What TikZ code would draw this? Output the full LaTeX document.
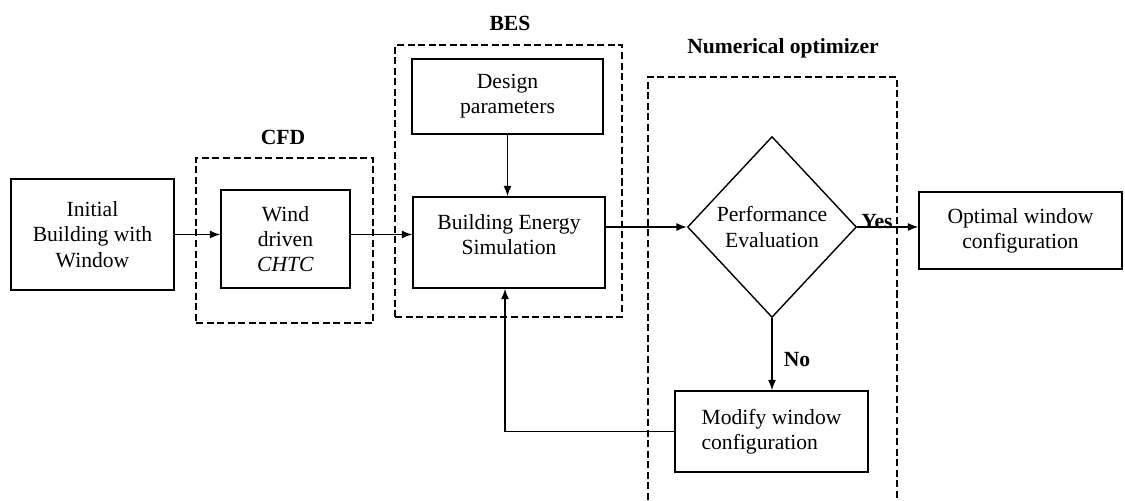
\documentclass[tikz,border=0pt]{standalone}
\usepackage{fontspec}
\setmainfont{Liberation Serif}
\usetikzlibrary{arrows.meta, shapes.geometric, positioning}

\begin{document}
\begin{tikzpicture}[x=0.02cm, y=0.02cm,
        font=\fontsize{12.3}{14.4}\selectfont,
        line width=0.8pt,
           arr/.style = {-{Latex[length=6pt,width=4.6pt]}},
         block/.style = {rectangle, draw, align=center, inner sep=2pt},
      decision/.style = {diamond, draw, align=center, inner sep=0pt,
                         minimum width=3.38cm, minimum height=3.62cm},
         frame/.style = {draw, line width=0.7pt,
                         dash pattern=on 4pt off 2pt},
         title/.style = {font=\fontsize{12.3}{14.4}\selectfont\bfseries}
                        ]
\useasboundingbox (0,0) rectangle (1125,500);
% Draw the dashed group frames and their titles
\node[frame, minimum width=3.54cm, minimum height=3.3cm]
        (cfdbox) at (284.5,259.5) {};
\node[frame, minimum width=4.54cm, minimum height=5.44cm]
        (besbox) at (508.5,319) {};
\draw[frame] (648,0) -- (648,423) -- (897,423) -- (897,0);
\node[title] (cfd) at (283,363) {CFD};
\node[title] (bestitle) at (510,477) {BES};
\node[title] (opttitle) at (783,452) {Numerical optimizer};
% Draw the process blocks
\node[block, minimum width=3.26cm, minimum height=2.22cm]
        (init) at (92.5,265.5) {Initial\\Building with\\Window};
\node[block, minimum width=2.58cm, minimum height=1.96cm]
        (wind) at (285.5,261) {Wind\\driven\\\textit{CHTC}};
\node[block, minimum width=3.82cm, minimum height=1.5cm]
        (design) at (507.5,403.5) {Design\\parameters};
\node[block, minimum width=3.84cm, minimum height=1.82cm]
        (bes) at (509,257.5) {Building Energy\\Simulation\\[-5.6pt]};
\node[decision] (eval) at (772,273) {Performance\\Evaluation};
\node[block, minimum width=3.86cm, minimum height=1.62cm, align=left]
        (modify) at (771.5,68.5) {Modify window\\configuration};
\node[block, minimum width=4.06cm, minimum height=1.54cm]
        (optimal) at (1020.5,269.5) {Optimal window\\configuration};
% Connect the blocks
\draw[arr] (init.east) -- (init.east -| wind.west);
\draw[arr] (wind.east |- init.east) -- (init.east -| bes.west);
\draw[arr] (design.south) -- (design.south |- bes.north);
\draw[arr] (bes.east |- eval.west) -- (eval.west);
\draw[arr] (eval.east) -- (eval.east -| optimal.west);
\draw[arr] (eval.south) -- (eval.south |- modify.north);
\draw[arr] (modify.west) -| ([xshift=-0.08cm]bes.south);
% Branch labels
\node[title] (yes) at (877,278) {Yes};
\node[title] (no) at (797,140) {No};
\end{tikzpicture}
\end{document}
